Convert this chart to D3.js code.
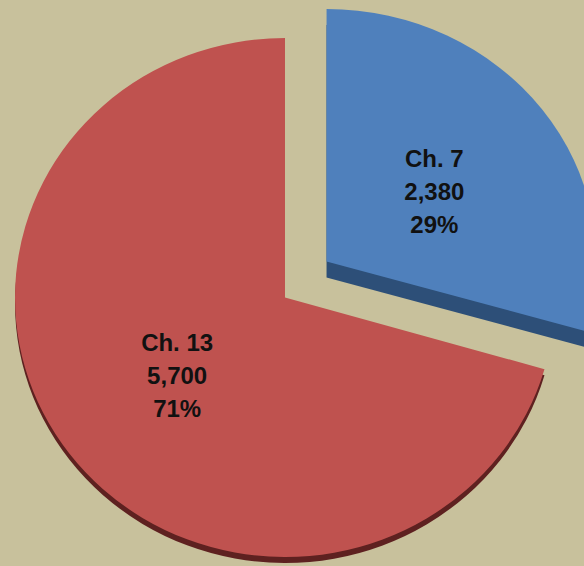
<!DOCTYPE html>
<html>
<head>
<meta charset="utf-8">
<script src="https://cdn.jsdelivr.net/npm/d3@7"></script>
<style>
  body { margin: 0; background: #c8c19c; }
  svg { display: block; }
  .slice-label { font-family: "Liberation Sans", Arial, sans-serif; font-weight: bold; font-size: 24px; fill: #111; }
</style>
</head>
<body>
<div id="chart"></div>
<script>
// Chart data
var categories = ["Ch. 7", "Ch. 13"];
var values = [2380, 5700];
var percentLabels = ["29%", "71%"];

var topColors = ["#4f80bc", "#bf524f"];
var sideColors = ["#2d4f78", "#5e2120"];

var svgWidth = 584;
var svgHeight = 566;

// Pie geometry (slight tilt -> squash vertically, back slice a bit more)
var cx = 285, cy = 297.5;
var radius = 270;
var tilt = [0.935, 0.961];
var explode = 52;
var lift = 6;   // exploded slice sits a little higher
var sideDepth = [16, 6];

var svg = d3.select("#chart")
    .append("svg")
    .attr("width", svgWidth)
    .attr("height", svgHeight);

svg.append("rect")
    .attr("width", svgWidth)
    .attr("height", svgHeight)
    .attr("fill", "#c8c19c");

var pie = d3.pie().sort(null).value(d => d.value);
var arc = d3.arc().innerRadius(0).outerRadius(radius);

var data = categories.map((c, i) => ({ name: c, value: values[i], pct: percentLabels[i] }));
var arcs = pie(data);

// offset of each slice (only Ch. 7 is pulled out)
function offset(d, i) {
    if (i !== 0) return [0, 0];
    var mid = (d.startAngle + d.endAngle) / 2;
    return [Math.sin(mid) * explode, -Math.cos(mid) * explode * tilt[1] - lift];
}

// Side faces first (drawn behind)
arcs.forEach(function(d, i) {
    var o = offset(d, i);
    svg.append("g")
        .attr("transform", `translate(${cx + o[0]}, ${cy + o[1] + sideDepth[i]}) scale(1, ${tilt[i]})`)
        .append("path")
        .attr("d", arc(d))
        .attr("fill", sideColors[i]);
});

// Top faces
arcs.forEach(function(d, i) {
    var o = offset(d, i);
    svg.append("g")
        .attr("transform", `translate(${cx + o[0]}, ${cy + o[1]}) scale(1, ${tilt[i]})`)
        .append("path")
        .attr("d", arc(d))
        .attr("fill", topColors[i]);
});

// Labels
arcs.forEach(function(d, i) {
    var o = offset(d, i);
    var c = arc.centroid(d);
    var lx = cx + o[0] + c[0];
    var ly = cy + o[1] + c[1] * tilt[i];
    var lineGap = 33;
    var lines = [d.data.name, d3.format(",")(d.data.value), d.data.pct];
    svg.append("text")
        .attr("class", "slice-label")
        .attr("text-anchor", "middle")
        .selectAll("tspan")
        .data(lines)
        .enter()
        .append("tspan")
        .attr("x", lx)
        .attr("y", (t, j) => ly + (j - 1) * lineGap + 8 + (i === 0 ? lift : 0))
        .text(t => t);
});
</script>
</body>
</html>
